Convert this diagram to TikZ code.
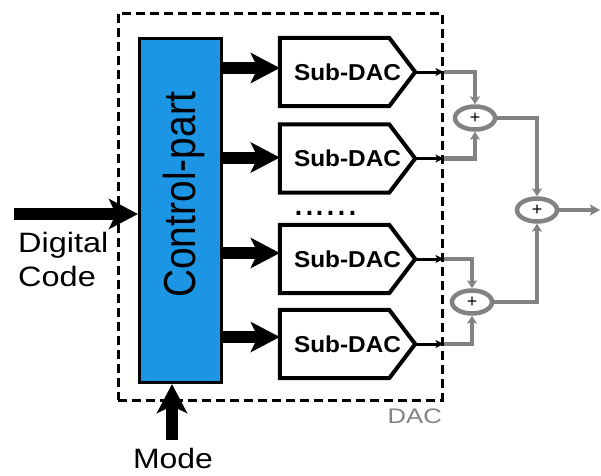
\documentclass[tikz,border=0pt]{standalone}
\usepackage{fontspec}
\setmainfont{Liberation Sans}
\usetikzlibrary{arrows.meta,shapes.geometric,calc}
\definecolor{ctrlblue}{RGB}{28,150,228}
\definecolor{gr}{RGB}{130,130,130}
\begin{document}
\begin{tikzpicture}[x=1pt,y=-1pt,
  dacbox/.style={draw,dashed,dash pattern=on 9pt off 5pt,line width=3pt,minimum width=324pt,minimum height=387pt,inner sep=0pt},
  ctrlbox/.style={draw,line width=3pt,fill=ctrlblue,minimum width=82pt,minimum height=344pt,inner sep=0pt},
  subdac/.style={minimum width=135pt,minimum height=68pt,inner sep=0pt,font=\fontsize{23}{26}\selectfont\bfseries},
  subborder/.style={line width=4pt,line join=miter},
  bigarrow/.style={line width=12pt,-{Stealth[length=29pt,width=30pt,inset=7pt]}},
  smallarrow/.style={line width=3pt,-{Stealth[length=8pt,width=8pt,inset=2pt]}},
  grayarrow/.style={gr,line width=4.5pt,-{Stealth[length=8pt,width=10pt,inset=2pt]}},
  adder/.style={draw=gr,line width=4.5pt,ellipse,minimum width=40pt,minimum height=23pt,inner sep=0pt,font=\fontsize{18}{18}\selectfont},
  bigtext/.style={font=\fontsize{28}{30}\selectfont,inner sep=0pt}
]
\useasboundingbox (0,0) rectangle (601,475);

% DAC dashed frame
\node[dacbox] (dac) at (280,206.5) {};
\node[gr,inner sep=0pt,anchor=base east,font=\fontsize{21}{22}\selectfont] (daclabel) at (442,423) {\scalebox{1.22}[1]{DAC}};

% control part
\node[ctrlbox] (ctrl) at (180.5,210.5) {};
\node[rotate=90,inner sep=0pt,font=\fontsize{39}{42}\selectfont] (ctrltext) at (184,195) {\scalebox{1}[1.15]{Control-part}};

% sub-DACs
\foreach \n/\y in {1/72,2/158.5,3/259,4/344}{
  \node[subdac] (s\n) at (347.5,\y) {\scalebox{1.06}[1]{Sub-DAC}};
  \draw[subborder] (s\n.north west) -- ([xshift=-26pt]s\n.north east) -- (s\n.east) -- ([xshift=-26pt]s\n.south east) -- (s\n.south west) -- cycle;
}

% dots
\node[inner sep=0pt,anchor=base west,font=\fontsize{39}{40}\selectfont] (dots) at (293,215) {......};

% thick arrows from control part
\foreach \n/\d in {1/-4,2/-1,3/-6,4/-7}{
  \draw[bigarrow] ($(ctrl.east |- s\n.west)+(0,\d)$) -- ($(s\n.west)+(0,\d)$);
}

% inputs
\coordinate (din) at (14,214);
\coordinate (modein) at (172,440);
\draw[bigarrow] (din) -- (din -| ctrl.west);
\draw[bigarrow] (modein) -- (modein |- ctrl.south);
\node[bigtext,anchor=base west] (dig) at (18,252) {\scalebox{1.16}[1]{Digital}};
\node[bigtext,anchor=base west] (code) at (18,286) {\scalebox{1.16}[1]{Code}};
\node[bigtext,anchor=base] (mode) at (173,468) {\scalebox{1.14}[1]{Mode}};

% adders
\node[adder] (a1) at (475,118) {+};
\node[adder] (a2) at (472,302) {+};
\node[adder] (a3) at (537,210) {+};
\coordinate (out) at (600,210);

% sub-DAC outputs
\foreach \n in {1,2,3,4}{
  \coordinate (o\n) at (s\n.east -| dac.east);
  \draw[smallarrow] (s\n.east) -- (o\n);
}
\draw[grayarrow] (o1) -| (a1.north);
\draw[grayarrow] (o2) -| (a1.south);
\draw[grayarrow] (o3) -| (a2.north);
\draw[grayarrow] (o4) -| (a2.south);
\draw[grayarrow] (a1.east) -| (a3.north);
\draw[grayarrow] (a2.east) -| (a3.south);
\draw[gr,line width=4.5pt,-{Stealth[length=10pt,width=11pt,inset=2pt]}] (a3.east) -- (out);
\end{tikzpicture}
\end{document}
